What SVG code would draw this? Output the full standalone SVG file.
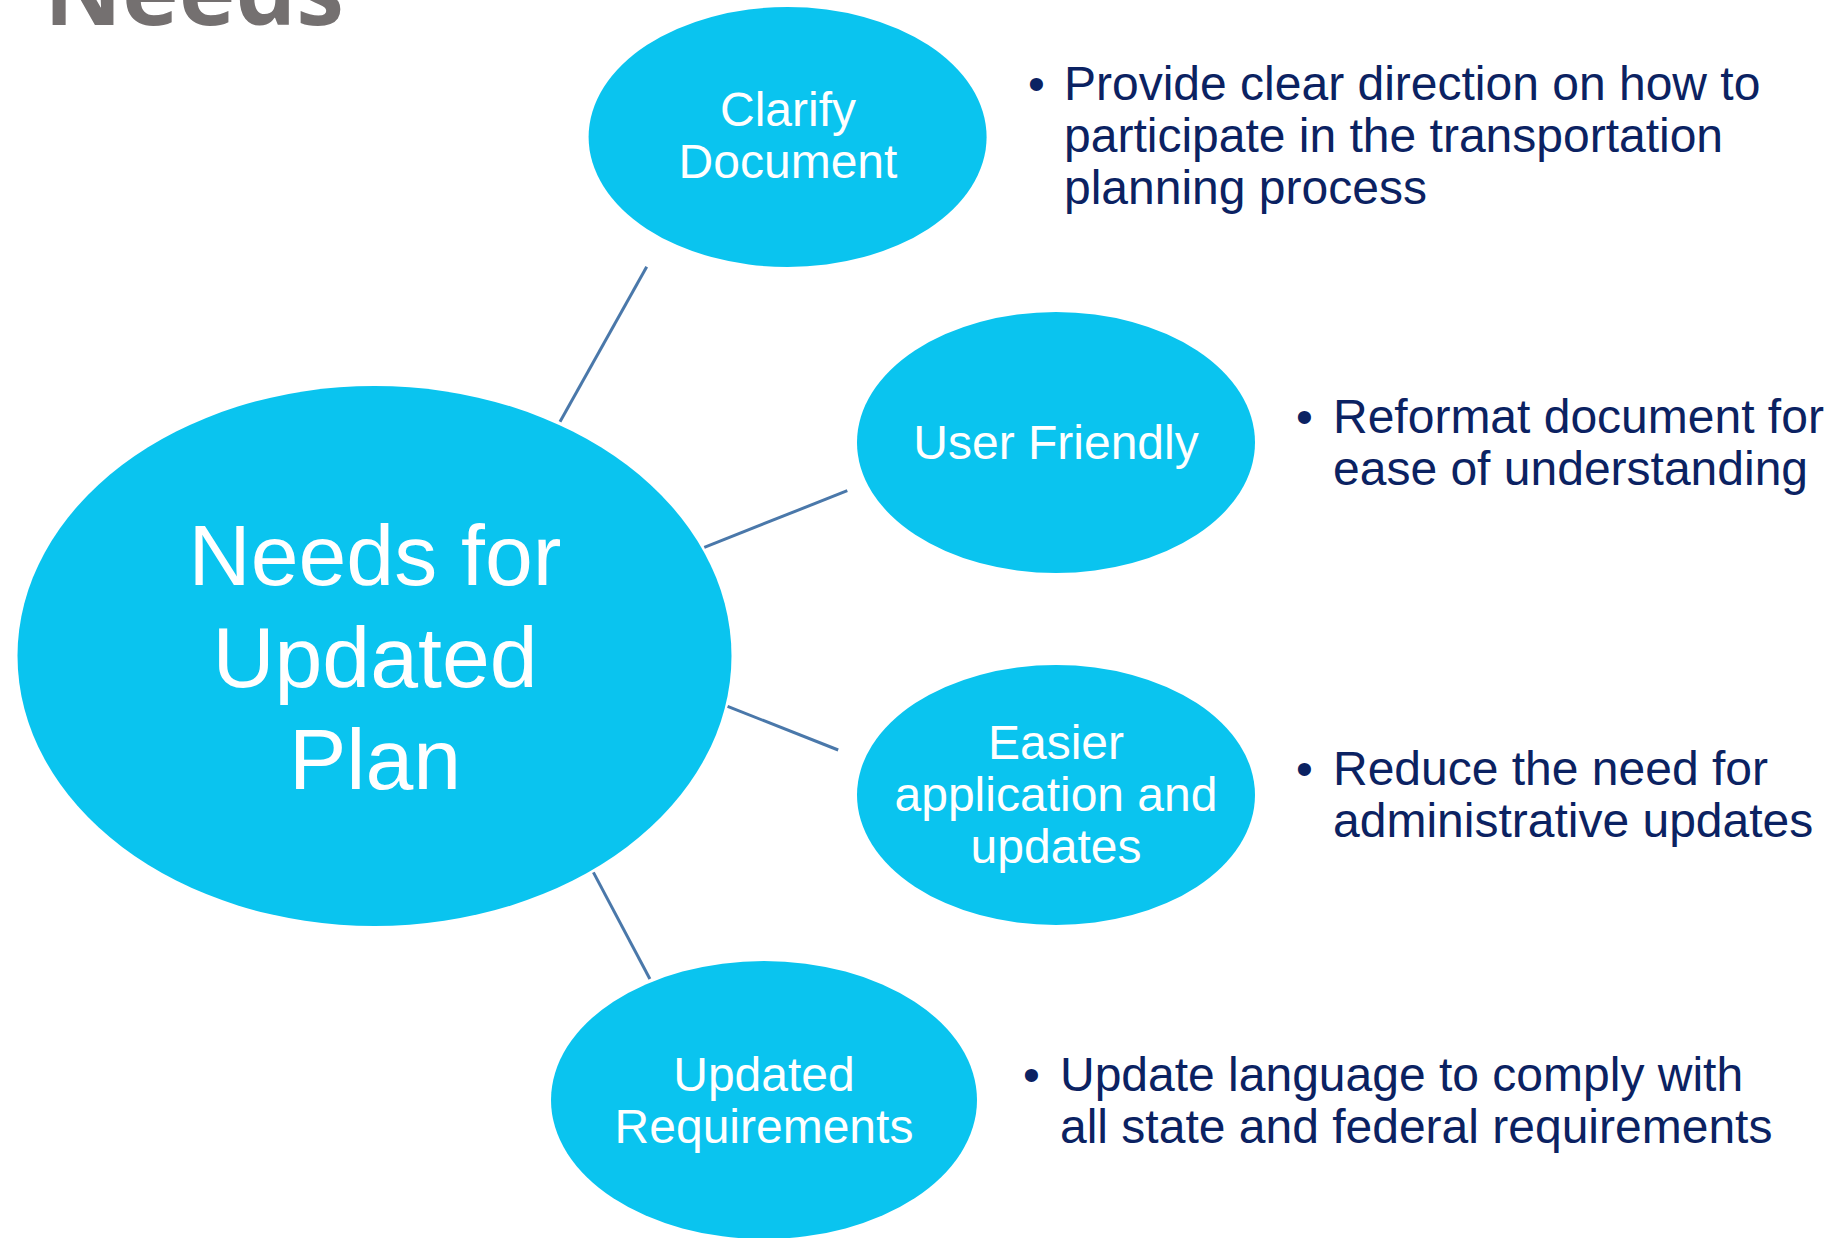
<svg xmlns="http://www.w3.org/2000/svg" width="1846" height="1238" viewBox="0 0 1846 1238">
<style>
.bub{fill:#0AC4EF;}
.lbl{font-family:"Liberation Sans",Arial,sans-serif;font-size:48px;fill:#FFFFFF;text-anchor:middle;}
.big{font-family:"Liberation Sans",Arial,sans-serif;font-size:86px;fill:#FFFFFF;text-anchor:middle;}
.bul{font-family:"Liberation Sans",Arial,sans-serif;font-size:48px;fill:#0B2262;}
.con{stroke:#4A78AA;stroke-width:3;fill:none;}
.ttl{font-family:"Open Sans","DejaVu Sans",sans-serif;font-weight:bold;font-size:96px;fill:#747070;}
</style>
<rect width="1846" height="1238" fill="#FFFFFF"/>
<text class="ttl" x="44" y="25">Needs</text>
<g id="connectors">
<line class="con" x1="646.7" y1="266.7" x2="560" y2="421.7"/>
<line class="con" x1="847.3" y1="490.7" x2="704.3" y2="547.3"/>
<line class="con" x1="838.2" y1="750" x2="727.6" y2="706.4"/>
<line class="con" x1="649.9" y1="979" x2="593.4" y2="872.4"/>
</g>
<g id="center">
<ellipse class="bub" cx="374.5" cy="656" rx="357" ry="270"/>
<text class="big" x="375" y="585">Needs for</text>
<text class="big" x="375" y="687">Updated</text>
<text class="big" x="375" y="789">Plan</text>
</g>
<g id="clarify">
<ellipse class="bub" cx="787.6" cy="137" rx="199" ry="130"/>
<text class="lbl" x="788" y="126">Clarify</text>
<text class="lbl" x="788" y="178">Document</text>
</g>
<g id="user">
<ellipse class="bub" cx="1056" cy="442.5" rx="199" ry="130.5"/>
<text class="lbl" x="1056" y="459">User Friendly</text>
</g>
<g id="easier">
<ellipse class="bub" cx="1056" cy="795" rx="199" ry="130"/>
<text class="lbl" x="1056" y="759">Easier</text>
<text class="lbl" x="1056" y="811">application and</text>
<text class="lbl" x="1056" y="863">updates</text>
</g>
<g id="requirements">
<ellipse class="bub" cx="764" cy="1100" rx="213" ry="139"/>
<text class="lbl" x="764" y="1091">Updated</text>
<text class="lbl" x="764" y="1143">Requirements</text>
</g>
<g id="note1">
<text class="bul" x="1028" y="100">•</text>
<text class="bul" x="1064" y="100">Provide clear direction on how to</text>
<text class="bul" x="1064" y="152">participate in the transportation</text>
<text class="bul" x="1064" y="204">planning process</text>
</g>
<g id="note2">
<text class="bul" x="1296" y="433">•</text>
<text class="bul" x="1333" y="433">Reformat document for</text>
<text class="bul" x="1333" y="485">ease of understanding</text>
</g>
<g id="note3">
<text class="bul" x="1296" y="785">•</text>
<text class="bul" x="1333" y="785">Reduce the need for</text>
<text class="bul" x="1333" y="837">administrative updates</text>
</g>
<g id="note4">
<text class="bul" x="1023" y="1091">•</text>
<text class="bul" x="1060" y="1091">Update language to comply with</text>
<text class="bul" x="1060" y="1143">all state and federal requirements</text>
</g>
</svg>
